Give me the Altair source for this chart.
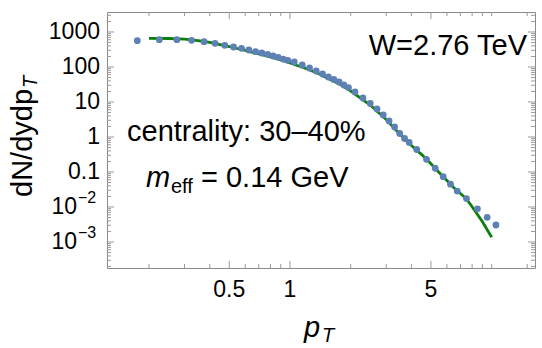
import altair as alt
import pandas as pd

# ---- data ----
pt = [0.175, 0.225, 0.275, 0.325, 0.375, 0.425, 0.475, 0.525, 0.575, 0.625,
      0.675, 0.725, 0.775, 0.825, 0.875, 0.925, 0.975, 1.05, 1.15, 1.25,
      1.35, 1.45, 1.55, 1.65, 1.75, 1.85, 1.95, 2.1, 2.3, 2.5,
      2.7, 2.9, 3.1, 3.3, 3.5, 3.7, 3.9, 4.25, 4.75, 5.25,
      5.75, 6.25, 6.75, 7.5, 8.5, 9.5, 10.5]
dndy = [564, 603, 603, 579, 528, 476, 417, 373, 342, 306,
        274, 251, 231, 206, 189, 169, 155, 139, 114, 93.6,
        76.9, 63.1, 51.8, 43.9, 37.3, 30.6, 25.9, 19.3, 13.0, 9.06,
        6.31, 4.25, 2.87, 1.93, 1.26, 0.906, 0.697, 0.439, 0.231, 0.128,
        0.0734, 0.0448, 0.0286, 0.0174, 0.00889, 0.00508, 0.00306]

fit_pt = [0.2, 0.25, 0.3, 0.35, 0.4, 0.5, 0.6, 0.7, 0.8, 0.9, 1.0, 1.2, 1.4,
          1.6, 1.8, 2.0, 2.5, 3.0, 3.5, 4.0, 4.5, 5.0, 5.5, 6.0, 6.5, 6.75,
          7.0, 7.5, 8.0, 9.0, 10.0]
fit_val = [661, 652, 623, 571, 508, 385, 296, 235, 193, 159, 130, 90.6, 63.1,
           42.6, 30.6, 20.6, 8.2, 3.16, 1.22, 0.571, 0.314, 0.171, 0.0955,
           0.0572, 0.0354, 0.0292, 0.0243, 0.0169, 0.0102, 0.0038, 0.00136]

x_label_vals = [0.5, 1, 5]
x_label_text = ["0.5", "1", "5"]
x_minor = [0.2, 0.3, 0.4, 0.6, 0.7, 0.8, 0.9, 2, 3, 4, 6, 7, 8, 9, 10, 15]
y_label_vals = [1000, 100, 10, 1, 0.1]
y_label_text = ["1000", "100", "10", "1", "0.1"]
y_pow_vals = [0.01, 0.001]
y_pow_exp = ["\u22122", "\u22123"]
y_major = [1e-3, 1e-2, 1e-1, 1, 10, 100, 1000]
y_minor_mult = [2, 3, 4, 5, 6, 7, 8, 9]
y_decades = [1e-4, 1e-3, 1e-2, 1e-1, 1, 10, 100, 1000]

# ---- layout ----
W, H = 428, 256
XDOM = [0.1238, 16.4]
YDOM = [10 ** -3.743, 10 ** 3.5714]
FONT = "Liberation Sans"
FRAME = "#8a8a8a"
TICK = "#9a9a9a"
LBL = 23

y_minor = [m * d for d in y_decades for m in y_minor_mult if YDOM[0] < m * d < YDOM[1]]

xs = alt.Scale(type="log", domain=XDOM)
ys = alt.Scale(type="log", domain=YDOM)

pts = pd.DataFrame({"pt": pt, "v": dndy})
fit = pd.DataFrame({"pt": fit_pt, "v": fit_val})

line = alt.Chart(fit).mark_line(color="#0a800a", strokeWidth=2.8, clip=True).encode(
    x=alt.X("pt:Q", scale=xs, axis=None),
    y=alt.Y("v:Q", scale=ys, axis=None),
)
dots = alt.Chart(pts).mark_circle(color="#5e81b5", size=46, opacity=1).encode(
    x=alt.X("pt:Q", scale=xs, axis=None),
    y=alt.Y("v:Q", scale=ys, axis=None),
)

def xticks(vals, length):
    df = pd.DataFrame({"v": vals})
    b = alt.Chart(df).mark_rule(color=TICK, strokeWidth=1).encode(
        x=alt.X("v:Q", scale=xs, axis=None), y=alt.value(H), y2=alt.value(H - length))
    t = alt.Chart(df).mark_rule(color=TICK, strokeWidth=1).encode(
        x=alt.X("v:Q", scale=xs, axis=None), y=alt.value(0), y2=alt.value(length))
    return [b, t]

def yticks(vals, length):
    df = pd.DataFrame({"v": vals})
    l = alt.Chart(df).mark_rule(color=TICK, strokeWidth=1).encode(
        y=alt.Y("v:Q", scale=ys, axis=None), x=alt.value(0), x2=alt.value(length))
    r = alt.Chart(df).mark_rule(color=TICK, strokeWidth=1).encode(
        y=alt.Y("v:Q", scale=ys, axis=None), x=alt.value(W - length), x2=alt.value(W))
    return [l, r]

tick_layers = xticks(x_label_vals, 7) + xticks(x_minor, 4) + yticks(y_major, 7) + yticks(y_minor, 4)

xlab = alt.Chart(pd.DataFrame({"v": x_label_vals, "t": x_label_text})).mark_text(
    font=FONT, fontSize=LBL, color="black", baseline="alphabetic", align="center"
).encode(x=alt.X("v:Q", scale=xs, axis=None), y=alt.value(H + 29), text="t:N")

ylab = alt.Chart(pd.DataFrame({"v": y_label_vals, "t": y_label_text})).mark_text(
    font=FONT, fontSize=LBL, color="black", baseline="middle", align="right"
).encode(y=alt.Y("v:Q", scale=ys, axis=None), x=alt.value(-7), text="t:N")

ybase = alt.Chart(pd.DataFrame({"v": y_pow_vals, "t": ["10", "10"]})).mark_text(
    font=FONT, fontSize=LBL, color="black", baseline="middle", align="right"
).encode(y=alt.Y("v:Q", scale=ys, axis=None), x=alt.value(-30), text="t:N")

yexp = alt.Chart(pd.DataFrame({"v": y_pow_vals, "t": y_pow_exp})).mark_text(
    font=FONT, fontSize=16, color="black", baseline="middle", align="left", dy=-9
).encode(y=alt.Y("v:Q", scale=ys, axis=None), x=alt.value(-29), text="t:N")

def txt(s, x, y, size=29, style="normal", align="left", angle=0, baseline="alphabetic"):
    return alt.Chart(pd.DataFrame({"t": [s]})).mark_text(
        font=FONT, fontSize=size, fontStyle=style, color="black", align=align,
        baseline=baseline, angle=angle
    ).encode(x=alt.value(x), y=alt.value(y), text="t:N")

annos = [
    txt("W=2.76 TeV", 420, 43, align="right"),
    txt("centrality: 30\u201340%", 20, 129),
    txt("m", 39, 175, style="italic"),
    txt("eff", 64, 181, size=20),
    txt("= 0.14 GeV", 94, 175),
    # x title
    txt("p", 197, 325, style="italic"),
    txt("T", 215, 330, size=20, style="italic"),
    # y title (rotated)
    txt("dN/dydp", -75, 185, angle=270),
    txt("T", -70, 76, size=20, style="italic", angle=270),
]

chart = alt.layer(line, dots, *tick_layers, xlab, ylab, ybase, yexp, *annos).properties(
    width=W, height=H,
    autosize=alt.AutoSizeParams(type="none"),
    padding={"left": 107, "top": 12, "right": 7, "bottom": 80},
    background="white",
).configure_view(stroke=FRAME, strokeWidth=1)

chart.save("out.html", embed_options={"renderer": "svg", "actions": False})
